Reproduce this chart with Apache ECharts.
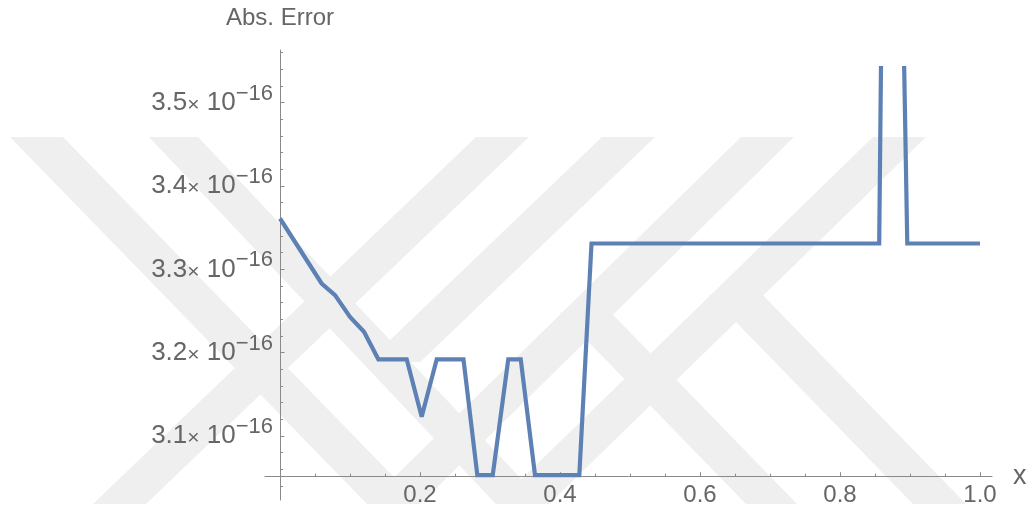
<!DOCTYPE html>
<html>
<head>
<meta charset="utf-8">
<script src="https://cdn.jsdelivr.net/npm/echarts@6/dist/echarts.min.js"></script>
<style>
  html, body { margin: 0; padding: 0; background: #ffffff; }
  #chart { width: 1032px; height: 514px; }
</style>
</head>
<body>
<div id="chart"></div>
<script>
// Sample positions along x
const xValues = [0, 0.0595, 0.0786, 0.1, 0.12, 0.1405, 0.181, 0.2024, 0.2239, 0.2621,
                 0.2819, 0.3039, 0.3261, 0.3439, 0.3643, 0.4276, 0.445, 0.856, 0.8706,
                 0.8961, 1.0];
// Absolute error at each sample, in units of 1e-16
const absErrorE16 = [3.361, 3.283, 3.269, 3.243, 3.225, 3.192, 3.192, 3.123, 3.192, 3.192,
                     3.053, 3.053, 3.192, 3.192, 3.053, 3.053, 3.331, 3.331, 4.55,
                     3.331, 3.331];

// Tick values
const xTickLabels = [0.2, 0.4, 0.6, 0.8, 1.0];
const xMinorTicks = [0.05, 0.1, 0.15, 0.25, 0.3, 0.35, 0.45, 0.5, 0.55, 0.65, 0.7, 0.75,
                     0.85, 0.9, 0.95];
const yTickLabels = [3.1, 3.2, 3.3, 3.4, 3.5];
const yMinorTicks = [3.04, 3.06, 3.08, 3.12, 3.14, 3.16, 3.18, 3.22, 3.24, 3.26, 3.28,
                     3.32, 3.34, 3.36, 3.38, 3.42, 3.44, 3.46, 3.48, 3.52, 3.54, 3.56];

const AXIS = '#8a8a8a';
const TEXT = '#666666';
const LINE = '#5e81b5';
const MARK = '#efefef';
const FONT = 'Liberation Sans, Arial, sans-serif';

// Axis extents (the frame reaches a little past the plotted range)
const X_MIN = -0.02143, X_MAX = 1.01714;
const Y_MIN = 3.0232, Y_MAX = 3.5632;
const Y_CLIP = 3.5416;        // upper edge of the plotting region
const X_AXIS_SHIFT = -23.3;   // x axis sits at the bottom of the data range
const Y_AXIS_SHIFT = -15;     // y axis sits at x = 0

// Faint diagonal background emblem: each stroke runs from a top span to a bottom span
// (pixel coordinates), drawn only between yFrom and yTo.
const EMBLEM_TOP = 137, EMBLEM_BOTTOM = 504;
const emblemStrokes = [
  { top: [10, 63],   bottom: [367, 420], yFrom: 137, yTo: 504 },
  { top: [149, 198], bottom: [496, 545], yFrom: 137, yTo: 504 },
  { top: [476, 529], bottom: [93, 146],  yFrom: 137, yTo: 504 },
  { top: [602, 655], bottom: [219, 272], yFrom: 137, yTo: 362 },
  { top: [741, 794], bottom: [367, 420], yFrom: 137, yTo: 504 },
  { top: [873, 926], bottom: [496, 549], yFrom: 137, yTo: 504 },
  { top: [389, 440], bottom: [746, 797], yFrom: 312.6, yTo: 504 },
  { top: [556, 609], bottom: [913, 966], yFrom: 294.3, yTo: 504 }
];

function strokePolygon(s) {
  const at = (edge, y) => {
    const t = (y - EMBLEM_TOP) / (EMBLEM_BOTTOM - EMBLEM_TOP);
    return s.top[edge] + (s.bottom[edge] - s.top[edge]) * t;
  };
  return [
    [at(0, s.yFrom), s.yFrom], [at(1, s.yFrom), s.yFrom],
    [at(1, s.yTo), s.yTo], [at(0, s.yTo), s.yTo]
  ];
}

const chart = echarts.init(document.getElementById('chart'), null, { renderer: 'canvas' });

const hidden = { show: false };

function yLabel(v) {
  return '{m|' + v.toFixed(1) + '}{x|\u00d7}{m| 10}{s|\u221216}';
}

chart.setOption({
  animation: false,
  backgroundColor: '#ffffff',
  graphic: emblemStrokes.map(s => ({
    type: 'polygon', z: -100, silent: true,
    shape: { points: strokePolygon(s) },
    style: { fill: MARK }
  })),
  grid: [
    { left: 265, right: 40, top: 50, bottom: 14 },
    { left: 265, right: 40, top: 68, bottom: 14 }
  ],
  xAxis: [
    {
      gridIndex: 0, type: 'value', position: 'bottom', min: X_MIN, max: X_MAX,
      offset: X_AXIS_SHIFT,
      axisLine: { show: true, onZero: false, lineStyle: { color: AXIS, width: 1 } },
      axisTick: { show: true, inside: true, length: 4.5, customValues: xTickLabels,
                  lineStyle: { color: AXIS, width: 1 } },
      axisLabel: { show: true, customValues: xTickLabels, margin: 7,
                   formatter: v => v.toFixed(1),
                   fontFamily: FONT, fontSize: 24, color: TEXT },
      splitLine: hidden,
      name: 'x', nameLocation: 'end', nameGap: 21,
      nameTextStyle: { fontFamily: FONT, fontSize: 27, color: TEXT, verticalAlign: 'middle' }
    },
    {
      gridIndex: 0, type: 'value', position: 'bottom', min: X_MIN, max: X_MAX,
      offset: X_AXIS_SHIFT,
      axisLine: { show: false, onZero: false },
      axisTick: { show: true, inside: true, length: 3, customValues: xMinorTicks,
                  lineStyle: { color: AXIS, width: 1 } },
      axisLabel: hidden, splitLine: hidden
    },
    {
      gridIndex: 1, type: 'value', position: 'bottom', min: X_MIN, max: X_MAX, show: false,
      axisLine: { onZero: false }
    }
  ],
  yAxis: [
    {
      gridIndex: 0, type: 'value', position: 'left', min: Y_MIN, max: Y_MAX,
      offset: Y_AXIS_SHIFT,
      axisLine: { show: true, onZero: false, lineStyle: { color: AXIS, width: 1 } },
      axisTick: { show: true, inside: true, length: 4.5, customValues: yTickLabels,
                  lineStyle: { color: AXIS, width: 1 } },
      axisLabel: {
        show: true, customValues: yTickLabels, margin: 7, formatter: yLabel,
        color: TEXT, fontFamily: FONT,
        rich: {
          m: { fontSize: 26, lineHeight: 26, color: TEXT, verticalAlign: 'bottom', fontFamily: FONT },
          x: { fontSize: 21, lineHeight: 20, color: TEXT, verticalAlign: 'bottom', fontFamily: FONT },
          s: { fontSize: 22, lineHeight: 22, color: TEXT, verticalAlign: 'bottom',
               padding: [0, 0, 11, 0], fontFamily: FONT }
        }
      },
      splitLine: hidden,
      name: 'Abs. Error', nameLocation: 'end', nameGap: 20,
      nameTextStyle: { fontFamily: FONT, fontSize: 24, color: TEXT,
                       align: 'center', verticalAlign: 'bottom' }
    },
    {
      gridIndex: 0, type: 'value', position: 'left', min: Y_MIN, max: Y_MAX,
      offset: Y_AXIS_SHIFT,
      axisLine: { show: false, onZero: false },
      axisTick: { show: true, inside: true, length: 3, customValues: yMinorTicks,
                  lineStyle: { color: AXIS, width: 1 } },
      axisLabel: hidden, splitLine: hidden
    },
    {
      gridIndex: 1, type: 'value', position: 'left', min: Y_MIN, max: Y_CLIP, show: false,
      axisLine: { onZero: false }
    }
  ],
  series: [
    {
      type: 'line',
      xAxisIndex: 2, yAxisIndex: 2,
      data: xValues.map((x, i) => [x, absErrorE16[i]]),
      showSymbol: false,
      clip: true,
      lineStyle: { color: LINE, width: 4.2, join: 'miter', miterLimit: 2, cap: 'butt' },
      emphasis: { disabled: true },
      silent: true
    }
  ]
});
</script>
</body>
</html>
